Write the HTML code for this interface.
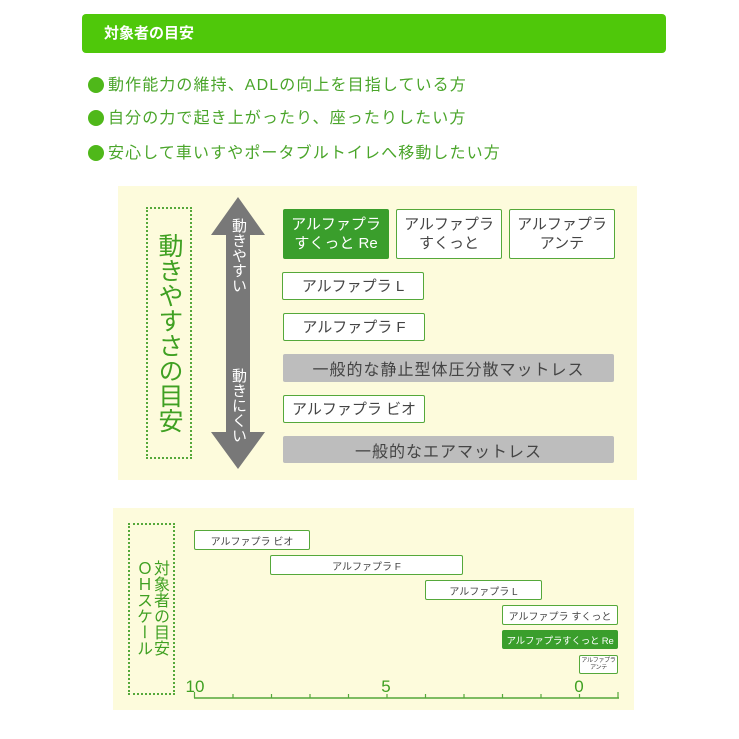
<!DOCTYPE html>
<html><head><meta charset="utf-8"><style>
*{margin:0;padding:0;box-sizing:border-box}
body{width:739px;height:739px;background:#fff;position:relative;overflow:hidden;font-family:"Liberation Sans","Noto Sans CJK JP",sans-serif}
.a{position:absolute}
.hd{left:82px;top:14px;width:584px;height:39px;background:#4fc80a;border-radius:4px;color:#fff;font-weight:bold;font-size:15px;line-height:39px;padding-left:22px}
.dot{width:16px;height:16px;border-radius:50%;background:#4fb81a}
.bl{font-size:16px;color:#4aa52a;line-height:20px;letter-spacing:1.1px;white-space:nowrap}
.bx{border:1.5px solid #55a83a;background:#fff;color:#444;font-size:15px;display:flex;align-items:center;justify-content:center;text-align:center;line-height:19px;border-radius:2px}
.gr{background:#bdbdbd;color:#444;font-size:16px;display:flex;align-items:center;justify-content:center;border-radius:2px;letter-spacing:1px}
.sb{border:1px solid #55a83a;background:#fff;color:#444;font-size:10px;display:flex;align-items:center;justify-content:center;border-radius:2px;white-space:nowrap}
.vt{writing-mode:vertical-rl;color:#3fa022}
</style></head><body>
<div class="a hd">対象者の目安</div>
<div class="a dot" style="left:88px;top:77px"></div><div class="a bl" style="left:108px;top:76px">動作能力の維持、ADLの向上を目指している方</div>
<div class="a dot" style="left:88px;top:110px"></div><div class="a bl" style="left:108px;top:109px">自分の力で起き上がったり、座ったりしたい方</div>
<div class="a dot" style="left:88px;top:145px"></div><div class="a bl" style="left:108px;top:144px">安心して車いすやポータブルトイレへ移動したい方</div>

<div class="a" style="left:118px;top:186px;width:519px;height:294px;background:#fdfbdc"></div>
<div class="a" style="left:146px;top:207px;width:46px;height:252px;border:2px dotted #55a83a"></div>
<div class="a vt" style="left:155px;top:233px;font-size:25px;line-height:28px">動きやすさの目安</div>
<svg class="a" style="left:211px;top:197px" width="54" height="273"><polygon points="27,0 54,38 39,38 39,235 54,235 27,272 0,235 15,235 15,38 0,38" fill="#787878"/></svg>
<div class="a vt" style="left:229px;top:218px;color:#fff;font-size:15px;line-height:18px">動きやすい</div>
<div class="a vt" style="left:229px;top:368px;color:#fff;font-size:15px;line-height:18px">動きにくい</div>
<div class="a bx" style="left:283px;top:209px;width:106px;height:50px;background:#3a9e2c;border-color:#3a9e2c;color:#fff">アルファプラ<br>すくっと Re</div>
<div class="a bx" style="left:396px;top:209px;width:106px;height:50px">アルファプラ<br>すくっと</div>
<div class="a bx" style="left:509px;top:209px;width:106px;height:50px">アルファプラ<br>アンテ</div>
<div class="a bx" style="left:282px;top:272px;width:142px;height:28px">アルファプラ L</div>
<div class="a bx" style="left:283px;top:313px;width:142px;height:28px">アルファプラ F</div>
<div class="a gr" style="left:283px;top:354px;width:331px;height:28px">一般的な静止型体圧分散マットレス</div>
<div class="a bx" style="left:283px;top:395px;width:142px;height:28px">アルファプラ ビオ</div>
<div class="a gr" style="left:283px;top:436px;width:331px;height:27px">一般的なエアマットレス</div>

<div class="a" style="left:113px;top:508px;width:521px;height:202px;background:#fdfbdc"></div>
<div class="a" style="left:128px;top:523px;width:47px;height:172px;border:2px dotted #55a83a"></div>
<div class="a vt" style="left:150px;top:560px;font-size:16px;line-height:18px">対象者の目安</div>
<div class="a vt" style="left:133px;top:560px;font-size:16px;line-height:18px">ＯＨスケール</div>
<div class="a sb" style="left:194px;top:530px;width:116px;height:20px">アルファプラ ビオ</div>
<div class="a sb" style="left:270px;top:555px;width:193px;height:20px">アルファプラ F</div>
<div class="a sb" style="left:425px;top:580px;width:117px;height:20px">アルファプラ L</div>
<div class="a sb" style="left:502px;top:605px;width:116px;height:20px">アルファプラ すくっと</div>
<div class="a sb" style="left:502px;top:630px;width:116px;height:19px;background:#3a9e2c;border-color:#3a9e2c;color:#fff;font-size:9.5px;letter-spacing:-0.2px">アルファプラすくっと Re</div>
<div class="a sb" style="left:579px;top:655px;width:39px;height:19px;font-size:6px;line-height:7px;text-align:center;flex-direction:column;letter-spacing:-0.3px"><span>アルファプラ</span><span>アンテ</span></div>
<svg class="a" style="left:0;top:0" width="739" height="739">
<line x1="194" y1="698" x2="619" y2="698" stroke="#55a83a" stroke-width="1.5"/>
<g stroke="#55a83a" stroke-width="1.2">
<line x1="194.5" y1="692" x2="194.5" y2="698"/><line x1="233" y1="694" x2="233" y2="698"/><line x1="271.5" y1="694" x2="271.5" y2="698"/><line x1="310" y1="694" x2="310" y2="698"/><line x1="348.5" y1="694" x2="348.5" y2="698"/><line x1="387" y1="694" x2="387" y2="698"/><line x1="425.5" y1="694" x2="425.5" y2="698"/><line x1="464" y1="694" x2="464" y2="698"/><line x1="502.5" y1="694" x2="502.5" y2="698"/><line x1="541" y1="694" x2="541" y2="698"/><line x1="579.5" y1="694" x2="579.5" y2="698"/><line x1="618" y1="692" x2="618" y2="698"/>
</g>
<g fill="#3fa022" font-size="17" font-family="Liberation Sans,sans-serif" text-anchor="middle">
<text x="195" y="692">10</text><text x="386" y="692">5</text><text x="579" y="692">0</text></g>
</svg>
</body></html>
